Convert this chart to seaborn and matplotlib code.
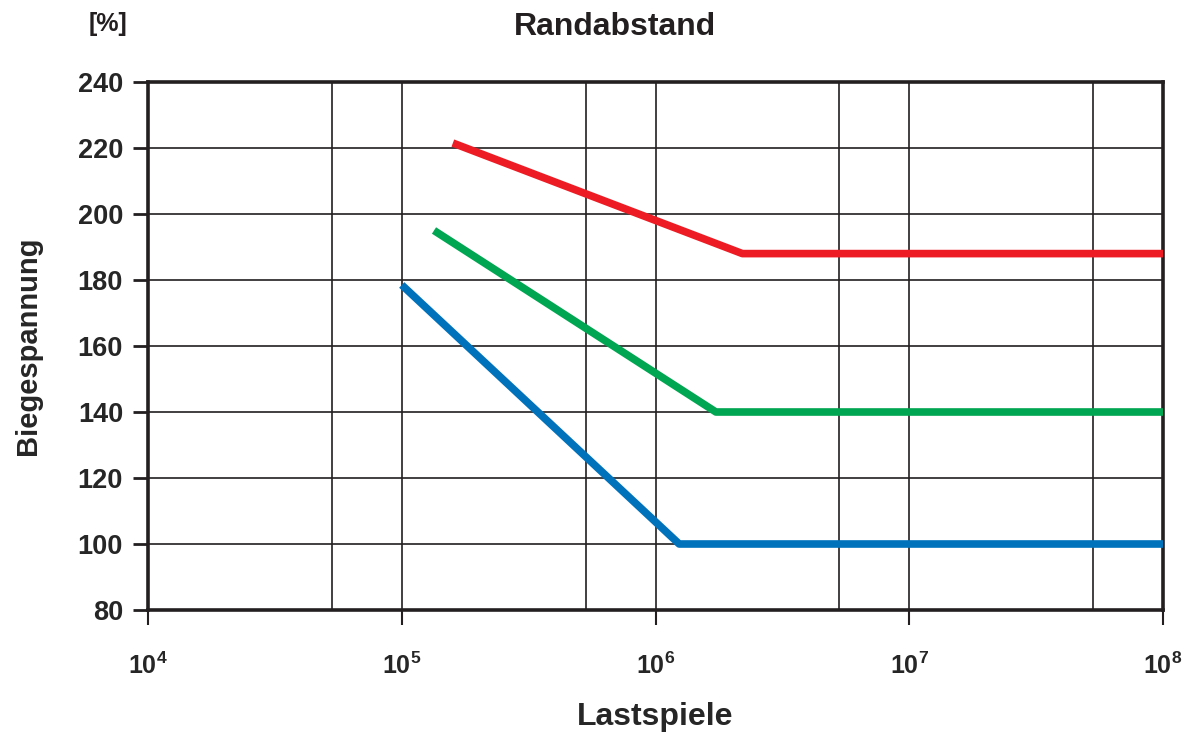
import numpy as np
import pandas as pd
import matplotlib.pyplot as plt
import matplotlib.ticker as mticker
import seaborn as sns

sns.set_style("white")
plt.rcParams["font.family"] = ["Liberation Sans", "DejaVu Sans"]
plt.rcParams["font.weight"] = "bold"
plt.rcParams["mathtext.fontset"] = "custom"
plt.rcParams["mathtext.rm"] = "Liberation Sans:bold"
plt.rcParams["mathtext.bf"] = "Liberation Sans:bold"
plt.rcParams["mathtext.it"] = "Liberation Sans:bold"

# --- Daten ---
red_x = [1.59e5, 2.2e6, 1e8]
red_y = [221.5, 188, 188]
green_x = [1.34e5, 1.73e6, 1e8]
green_y = [195, 140, 140]
blue_x = [1.0e5, 1.24e6, 1e8]
blue_y = [178.5, 100, 100]

y_ticks = [80, 100, 120, 140, 160, 180, 200, 220, 240]
x_ticks = [1e4, 1e5, 1e6, 1e7, 1e8]
x_tick_labels = [r"$10^{4}$", r"$10^{5}$", r"$10^{6}$", r"$10^{7}$", r"$10^{8}$"]
x_grid_minor = [5.3e4, 5.3e5, 5.3e6, 5.3e7]

df = pd.concat([
    pd.DataFrame({"Lastspiele": red_x, "Biegespannung": red_y, "Serie": "rot"}),
    pd.DataFrame({"Lastspiele": green_x, "Biegespannung": green_y, "Serie": "gruen"}),
    pd.DataFrame({"Lastspiele": blue_x, "Biegespannung": blue_y, "Serie": "blau"}),
])
farben = {"rot": "#ED1C24", "gruen": "#00A651", "blau": "#0072BC"}

fig = plt.figure(figsize=(11.91, 7.34), dpi=100)
ax = fig.add_axes([148 / 1191, 1 - 610 / 734, (1163 - 148) / 1191, (610 - 82) / 734])

sns.lineplot(data=df, x="Lastspiele", y="Biegespannung", hue="Serie",
             palette=farben, linewidth=5.5, legend=False, ax=ax,
             estimator=None, sort=False, solid_capstyle="butt", zorder=5)

ax.set_xscale("log")
ax.set_xlim(1e4, 1e8)
ax.set_ylim(80, 240)
ax.xaxis.set_major_locator(mticker.FixedLocator(x_ticks))
ax.xaxis.set_major_formatter(mticker.FixedFormatter(x_tick_labels))
ax.xaxis.set_minor_locator(mticker.FixedLocator(x_grid_minor))
ax.xaxis.set_minor_formatter(mticker.NullFormatter())
ax.set_yticks(y_ticks)

ax.grid(True, which="both", color="#231f20", linewidth=1.2)
ax.set_axisbelow(True)
for s in ax.spines.values():
    s.set_linewidth(2.6)
    s.set_color("#231f20")
    s.set_visible(True)

ax.tick_params(axis="x", which="major", direction="out", length=11, width=1.5,
               pad=20, labelsize=18, color="#231f20", bottom=True)
ax.tick_params(axis="x", which="minor", length=0)
ax.tick_params(axis="y", direction="out", length=11, width=2, pad=7,
               labelsize=19.5, color="#231f20", left=True)
for lab in ax.get_yticklabels():
    lab.set_fontweight("bold")

ax.set_xlabel("Lastspiele", fontsize=23, fontweight="bold", labelpad=16)
ax.set_ylabel("Biegespannung", fontsize=21, fontweight="bold", labelpad=26)

fig.text(615 / 1191, 1 - 27 / 734, "Randabstand", ha="center", va="center",
         fontsize=23, fontweight="bold", color="#231f20")
fig.text(108 / 1191, 1 - 24 / 734, "[%]", ha="center", va="center",
         fontsize=18, fontweight="bold", color="#231f20")

fig.savefig("out.png", dpi=100)
